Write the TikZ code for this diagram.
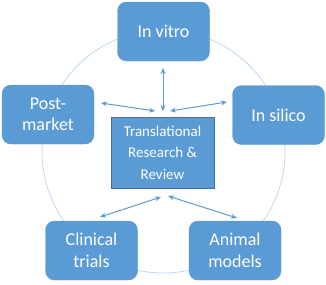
\documentclass[tikz,border=0pt]{standalone}
\usepackage{fontspec}
\setmainfont{Carlito}
\usetikzlibrary{arrows.meta}
\definecolor{boxblue}{HTML}{5B9BD5}
\definecolor{edgeblue}{HTML}{41719C}
\definecolor{ringblue}{HTML}{BDD7EE}
\begin{document}
\begin{tikzpicture}[x=1pt,y=-1pt,
  outer/.style={draw=boxblue,fill=boxblue,rounded corners=9pt,minimum width=92pt,minimum height=59pt,text=white,align=center,font=\fontsize{18}{21.5}\selectfont,inner sep=2pt},
  hub/.style={draw=edgeblue,line width=0.8pt,fill=boxblue,minimum width=103pt,minimum height=71pt,text=white,align=center,font=\fontsize{15}{21.5}\selectfont,inner sep=2pt},
  link/.style={draw=boxblue,line width=1pt,{Stealth[length=6pt,width=5pt]}-{Stealth[length=6pt,width=5pt]}}]
\useasboundingbox (0,0) rectangle (326,284);
\draw[ringblue,line width=0.8pt] (163.5,151.5) circle (121.5);
\node[outer] (vitro) at (163.5,31.5) {In vitro};
\node[outer] (post) at (48,114.5) {Post-\\market};
\node[outer] (silico) at (278.5,115) {In silico};
\node[outer] (clin) at (91.5,250.5) {Clinical\\trials};
\node[outer] (anim) at (235,250.5) {Animal\\models};
\node[hub] (hub) at (162.5,152.5) {Translational\\Research \&\\Review};
\coordinate (a1) at (163,68); \coordinate (b1) at (163,111);
\coordinate (a2) at (101,103); \coordinate (b2) at (155,111);
\coordinate (a3) at (227,102); \coordinate (b3) at (170,111);
\coordinate (a4) at (100,217); \coordinate (b4) at (161,197);
\coordinate (a5) at (237,218); \coordinate (b5) at (168,196);
\draw[link] (a1) -- (b1);
\draw[link] (a2) -- (b2);
\draw[link] (a3) -- (b3);
\draw[link] (a4) -- (b4);
\draw[link] (a5) -- (b5);
\end{tikzpicture}
\end{document}
